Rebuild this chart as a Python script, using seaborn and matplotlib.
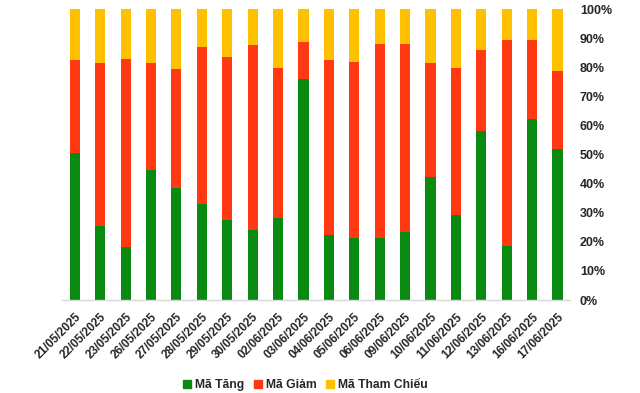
import matplotlib
matplotlib.use("Agg")
import matplotlib.pyplot as plt
import seaborn as sns
import pandas as pd
import numpy as np
from matplotlib.ticker import PercentFormatter, FixedLocator
from matplotlib.lines import Line2D

dates = ["21/05/2025", "22/05/2025", "23/05/2025", "26/05/2025", "27/05/2025",
         "28/05/2025", "29/05/2025", "30/05/2025", "02/06/2025", "03/06/2025",
         "04/06/2025", "05/06/2025", "06/06/2025", "09/06/2025", "10/06/2025",
         "11/06/2025", "12/06/2025", "13/06/2025", "16/06/2025", "17/06/2025"]
ma_tang = [50.5, 25.4, 18.2, 44.8, 38.6, 33.1, 27.6, 24.2, 28.3, 75.9,
           22.3, 21.4, 21.4, 23.5, 42.3, 29.2, 58.1, 18.7, 62.2, 51.9]
ma_giam = [32.0, 56.0, 64.6, 36.6, 40.8, 53.8, 55.9, 63.4, 51.4, 12.8,
           60.2, 60.4, 66.6, 64.5, 39.1, 50.5, 27.8, 70.6, 27.1, 26.8]
ma_tham_chieu = [17.5, 18.6, 17.2, 18.6, 20.6, 13.1, 16.5, 12.4, 20.3, 11.3,
                 17.5, 18.2, 12.0, 12.0, 18.6, 20.3, 14.1, 10.7, 10.7, 21.3]
series_names = ["Mã Tăng", "Mã Giảm", "Mã Tham Chiếu"]
colors = ["#0B8A12", "#FF3A12", "#FFC000"]

sns.set_theme(style="white")
plt.rcParams['font.family'] = ['Liberation Sans', 'DejaVu Sans']

df = pd.DataFrame({"date": dates,
                   "tang": np.array(ma_tang) / 100,
                   "giam": np.array(ma_giam) / 100,
                   "tc": np.array(ma_tham_chieu) / 100})
df["c_tang"] = df["tang"]
df["c_giam"] = df["tang"] + df["giam"]
df["c_tc"] = df["c_giam"] + df["tc"]

fig = plt.figure(figsize=(6.4, 3.93), dpi=100)
ax = fig.add_axes([0.097, 0.2366, 0.794, 0.7404])

for col, c in zip(["c_tc", "c_giam", "c_tang"], [colors[2], colors[1], colors[0]]):
    sns.barplot(data=df, x="date", y=col, color=c, width=0.4, ax=ax,
                saturation=1, linewidth=0, errorbar=None)

ax.set_xlim(-0.5, len(dates) - 0.5)
ax.set_ylim(0, 1)
ax.set_xlabel("")
ax.set_ylabel("")
ax.yaxis.tick_right()
ax.yaxis.set_major_locator(FixedLocator(np.linspace(0, 1, 11)))
ax.yaxis.set_major_formatter(PercentFormatter(1.0, decimals=0))
ax.tick_params(axis='y', length=0, pad=7, labelsize=9)
ax.tick_params(axis='x', length=0, pad=8, labelsize=8.5)
for lbl in ax.get_yticklabels():
    lbl.set_fontweight('bold')
    lbl.set_horizontalalignment('left')
ax.set_xticks(range(len(dates)))
ax.set_xticklabels(dates, rotation=45, ha='right', rotation_mode='anchor',
                   fontweight='bold')
for s in ["top", "left", "right"]:
    ax.spines[s].set_visible(False)
ax.spines["bottom"].set_color("#D9D9D9")
ax.spines["bottom"].set_linewidth(1.0)
ax.grid(False)

handles = [Line2D([0], [0], marker='s', linestyle='none', markersize=5.5,
                  markerfacecolor=c, markeredgecolor=c) for c in colors]
fig.legend(handles, series_names, loc='center', bbox_to_anchor=(0.477, 0.02),
           ncol=3, frameon=False, handlelength=0.7, handletextpad=0.3,
           columnspacing=0.8, prop={'size': 8.7, 'weight': 'bold'})

fig.savefig("out.png", dpi=100)
